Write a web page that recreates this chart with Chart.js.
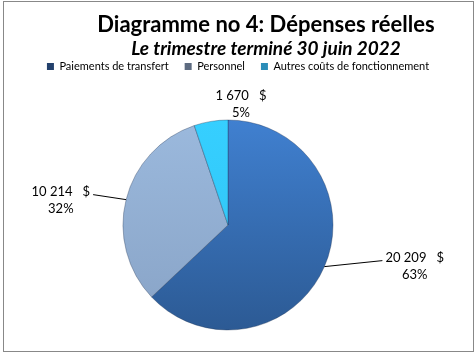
<!DOCTYPE html>
<html><head><meta charset="utf-8">
<script src="https://cdn.jsdelivr.net/npm/chart.js@4"></script>
<style>html,body{margin:0;padding:0;background:#fff}#wrap{width:476px;height:355px;position:relative}</style>
</head><body><div id="wrap"><canvas id="c" width="476" height="355"></canvas></div>
<script>
const titleText = 'Diagramme no 4: Dépenses réelles';
const subtitleText = 'Le trimestre terminé 30 juin 2022';
const categories = ['Paiements de transfert', 'Personnel', 'Autres coûts de fonctionnement'];
const values = [20209, 10214, 1670];
const currencySuffix = '   $';

// styling
const sliceTop = ['#4080d0', '#9bb9dd', '#36cfff'];
const sliceBottom = ['#2c5a94', '#88a3c6', '#2ec3f3'];
const legendColors = ['#23416c', '#5d6b80', '#2b8db8'];
// [dx, dy, drawLine, side] offsets from the arc's mid-edge point
const labelPlace = [[58, -6, true, 'right'], [-33, -5, true, 'left'], [30, -21, false, 'center']];

function fmt(v) { return String(v).replace(/\B(?=(\d{3})+(?!\d))/g, ' ') + currencySuffix; }

const frameTitlePlugin = {
  id: 'frameTitle',
  afterDraw(chart) {
    const ctx = chart.ctx;
    ctx.save();
    ctx.strokeStyle = '#888888';
    ctx.lineWidth = 1;
    ctx.strokeRect(3.5, 1.5, 470, 350);
    ctx.fillStyle = '#000';
    ctx.textAlign = 'center';
    ctx.textBaseline = 'alphabetic';
    ctx.font = 'bold 22px Lato';
    ctx.fillText(titleText, 266, 32);
    ctx.font = 'italic bold 19px Lato';
    ctx.fillText(subtitleText, 266, 55);
    ctx.restore();
  }
};

const labelPlugin = {
  id: 'pieLabels',
  afterDatasetsDraw(chart) {
    const ctx = chart.ctx;
    const meta = chart.getDatasetMeta(0);
    const total = values.reduce((a, b) => a + b, 0);
    ctx.save();
    ctx.font = '13px Lato';
    ctx.fillStyle = '#000';
    ctx.textBaseline = 'alphabetic';
    ctx.textAlign = 'center';
    meta.data.forEach((arc, i) => {
      const p = arc.getProps(['x', 'y', 'startAngle', 'endAngle', 'outerRadius'], true);
      const mid = (p.startAngle + p.endAngle) / 2;
      const ex = p.x + Math.cos(mid) * p.outerRadius;
      const ey = p.y + Math.sin(mid) * p.outerRadius;
      const [dx, dy, line, side] = labelPlace[i];
      const ax = ex + dx, ay = ey + dy;
      const l1 = fmt(values[i]);
      const l2 = Math.round(values[i] / total * 100) + '%';
      const w = Math.max(ctx.measureText(l1).width, ctx.measureText(l2).width);
      let cx = ax;
      if (side === 'right') cx = ax + 3 + w / 2;
      else if (side === 'left') cx = ax - 3 - w / 2;
      if (line) {
        ctx.beginPath();
        ctx.moveTo(ex, ey);
        ctx.lineTo(ax, ay);
        ctx.strokeStyle = '#000';
        ctx.lineWidth = 1;
        ctx.stroke();
      }
      const base = line ? ay + 1 : ay;
      ctx.fillText(l1, cx, base);
      ctx.fillText(l2, cx, base + 17);
    });
    ctx.restore();
  }
};

function sliceFill(c) {
  const ch = c.chart;
  const ca = ch.chartArea;
  const i = c.dataIndex;
  if (!ca) return sliceTop[i];
  const cy = (ca.top + ca.bottom) / 2;
  const g = ch.ctx.createLinearGradient(0, cy - 105, 0, cy + 105);
  g.addColorStop(0, sliceTop[i]);
  g.addColorStop(1, sliceBottom[i]);
  return g;
}

new Chart(document.getElementById('c'), {
  type: 'pie',
  data: {
    labels: categories,
    datasets: [{
      data: values,
      backgroundColor: sliceFill,
      borderColor: 'rgba(30,50,80,0.35)',
      borderWidth: 1,
      radius: 105
    }]
  },
  options: {
    responsive: false,
    animation: false,
    events: [],
    layout: { padding: { top: 45, left: 0, right: 0, bottom: 0 } },
    plugins: {
      legend: {
        display: true,
        position: 'top',
        labels: {
          boxWidth: 7,
          boxHeight: 7,
          padding: 16,
          color: '#000',
          font: { family: 'Lato', size: 11 },
          generateLabels: () => categories.map((t, i) => ({
            text: t, fillStyle: legendColors[i], strokeStyle: legendColors[i],
            lineWidth: 0, hidden: false, index: i, fontColor: '#000'
          }))
        }
      },
      subtitle: {
        display: true, text: ' ', position: 'top', weight: 500,
        font: { size: 1, lineHeight: 1 }, padding: { top: 0, bottom: 12 }
      },
      title: {
        display: true, text: ' ', position: 'right', fullSize: false,
        font: { size: 1, lineHeight: 1 }, padding: { top: 0, bottom: 19 }
      },
      tooltip: { enabled: false }
    }
  },
  plugins: [labelPlugin, frameTitlePlugin]
});
</script></body></html>
